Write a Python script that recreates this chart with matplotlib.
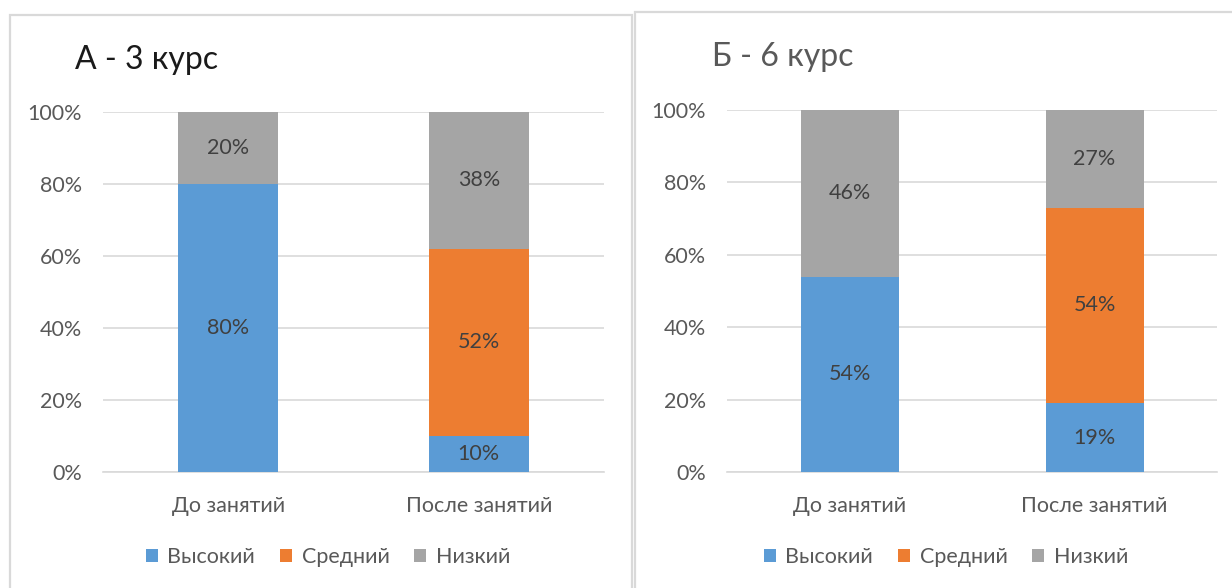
import matplotlib
matplotlib.use("Agg")
import matplotlib.pyplot as plt
from matplotlib.patches import Rectangle
import numpy as np

plt.rcParams['font.family'] = ['Lato', 'DejaVu Sans']

categories = ["До занятий", "После занятий"]
series_names = ["Высокий", "Средний", "Низкий"]
colors = ["#5B9BD5", "#ED7D31", "#A5A5A5"]

a_high = [80, 10]
a_mid = [0, 52]
a_low = [20, 38]

b_high = [54, 19]
b_mid = [0, 54]
b_low = [46, 27]

yticks = [0, 20, 40, 60, 80, 100]
ytick_labels = ["0%", "20%", "40%", "60%", "80%", "100%"]

W, H = 1232, 588
fig = plt.figure(figsize=(W / 100, H / 100), dpi=100)

# panel borders
fig.patches.append(Rectangle((10 / W, 1 - 700 / H), 622 / W, 685 / H, transform=fig.transFigure,
                             fill=False, edgecolor="#D9D9D9", linewidth=1.6))
fig.patches.append(Rectangle((635 / W, 1 - 700 / H), 700 / W, 688 / H, transform=fig.transFigure,
                             fill=False, edgecolor="#D9D9D9", linewidth=1.6))

tc = "#595959"
FS = 15.5


def make_panel(left_px, right_px, top_px, bottom_px, high, mid, low, title, title_x, title_y,
               title_color, legend_center_x):
    ax = fig.add_axes([left_px / W, 1 - bottom_px / H, (right_px - left_px) / W,
                       (bottom_px - top_px) / H])
    x = np.arange(len(categories))
    data = [high, mid, low]
    bottom = np.zeros(len(categories))
    handles = []
    for vals, c, name in zip(data, colors, series_names):
        vals = np.array(vals, dtype=float)
        bars = ax.bar(x, vals, 0.40, bottom=bottom, color=c, label=name, zorder=3)
        handles.append(bars)
        for xi, v, b in zip(x, vals, bottom):
            if v > 0:
                ax.text(xi, b + v / 2, f"{int(v)}%", ha="center", va="center",
                        fontsize=FS, color="#404040", zorder=4)
        bottom = bottom + vals
    ax.set_xlim(-0.5, 1.5)
    ax.set_ylim(0, 100)
    ax.set_yticks(yticks)
    ax.set_yticklabels(ytick_labels)
    ax.set_xticks(x)
    ax.set_xticklabels(categories)
    ax.tick_params(axis="both", length=0, labelsize=FS, labelcolor=tc)
    ax.tick_params(axis="y", pad=15)
    ax.tick_params(axis="x", pad=17)
    ax.grid(axis="y", color="#D9D9D9", linewidth=1.2, zorder=0)
    for s in ax.spines.values():
        s.set_visible(False)
    ax.spines["bottom"].set_visible(True)
    ax.spines["bottom"].set_color("#D9D9D9")
    ax.spines["bottom"].set_linewidth(1.2)
    fig.text(title_x / W, 1 - title_y / H, title, fontsize=23, color=title_color,
             ha="left", va="center")
    fig.legend(handles=handles, labels=series_names, loc="center",
               bbox_to_anchor=(legend_center_x / W, 1 - 557 / H), ncol=3, frameon=False,
               handlelength=0.55, handleheight=0.55, handletextpad=0.45,
               columnspacing=1.15, fontsize=FS, labelcolor=tc)
    return ax


make_panel(103, 604, 112, 472, a_high, a_mid, a_low, "А - 3 курс", 75, 60, "#1a1a1a", 328)
make_panel(727, 1217, 110, 472, b_high, b_mid, b_low, "Б - 6 курс", 712, 57, tc, 946)

fig.savefig("out.png", dpi=100)
